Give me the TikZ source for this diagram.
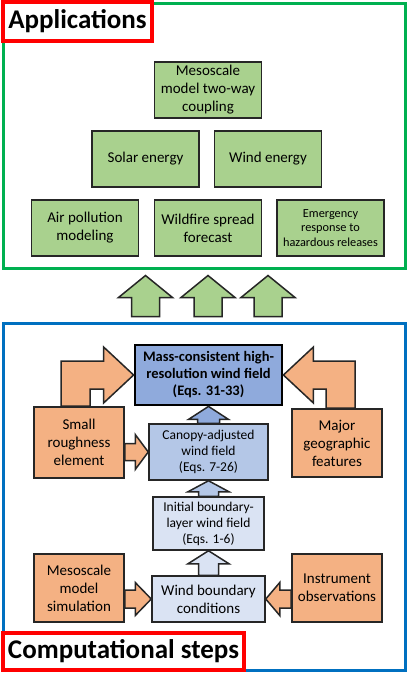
\documentclass[tikz,border=0pt]{standalone}
\usepackage{fontspec}
\setmainfont{Carlito}
\usepackage{tikz}
\usetikzlibrary{calc,positioning}
\definecolor{appgreen}{HTML}{A9D18E}
\definecolor{inorange}{HTML}{F4B183}
\definecolor{blueA}{HTML}{8FAADC}
\definecolor{blueB}{HTML}{B4C7E7}
\definecolor{blueC}{HTML}{DAE3F3}
\definecolor{framegreen}{HTML}{00B050}
\definecolor{frameblue}{HTML}{0070C0}
\definecolor{titlered}{HTML}{FF0000}
\tikzset{
	blockbox/.style={draw=black!85, line width=1.8pt, align=center, inner sep=2pt},
	appbox/.style={blockbox, fill=appgreen, minimum width=107pt, minimum height=56pt, font=\fontsize{15}{18}\selectfont},
	inbox/.style={blockbox, fill=inorange, minimum width=90pt, minimum height=68pt, font=\fontsize{15}{18}\selectfont},
	fieldbox/.style={blockbox, line width=1.5pt, font=\fontsize{13.5}{16}\selectfont},
	areaframe/.style={line width=3pt, minimum width=402pt, inner sep=0pt},
	titlebox/.style={draw=titlered, line width=3.2pt, fill=white, inner sep=0pt, font=\bfseries\fontsize{27}{32}\selectfont},
	flow/.style={draw=black!85, line width=1.5pt, line join=miter},
}
% block arrow: fill, from, to, shaft half width, head half width, head length
\newcommand{\blockarrow}[6]{%
	\coordinate (ba0) at #2;
	\coordinate (ba1) at #3;
	\coordinate (bah) at ($(ba1)!#6!(ba0)$);
	\draw[flow, fill=#1] ($(ba0)!#4!90:(ba1)$) -- ($(bah)!#4!90:(ba1)$) -- ($(bah)!#5!90:(ba1)$)
		-- (ba1) -- ($(bah)!#5!-90:(ba1)$) -- ($(bah)!#4!-90:(ba1)$) -- ($(ba0)!#4!-90:(ba1)$) -- cycle;
}

\begin{document}
\begin{tikzpicture}[x=1pt, y=-1pt]
	\useasboundingbox (0,0) rectangle (408,675);

	% applications
	\node[areaframe, draw=framegreen, minimum height=265pt] (appsframe) at (204,135.5) {};
	\node[titlebox, minimum width=149pt, minimum height=39pt] (appstitle) at (77.5,21.5) {Applications};

	\node[appbox] (coup) at (208,90) {Mesoscale\\model two-way\\coupling};
	\node[appbox] (solar) at (145.5,159) {Solar energy};
	\node[appbox] (wind) at (268,159) {Wind energy};
	\node[appbox] (air) at (85,228) {Air pollution\\modeling};
	\node[appbox] (fire) at (208,228) {Wildfire spread\\forecast};
	\node[appbox, font=\fontsize{12.3}{14.5}\selectfont] (emer) at (330.5,228) {Emergency\\response to\\hazardous releases};

	% computational steps
	\node[areaframe, draw=frameblue, minimum height=347pt] (stepsframe) at (204,496.5) {};
	\node[titlebox, minimum width=241pt, minimum height=37pt] (stepstitle) at (123.5,651.5) {Computational steps};

	\node[fieldbox, fill=blueA, line width=2.8pt, draw=black, minimum width=147pt, minimum height=60pt,
		font=\bfseries\fontsize{14.5}{17}\selectfont] (mass) at (208.5,375) {Mass-consistent high-\\resolution wind field\\(Eqs. 31-33)};
	\node[fieldbox, fill=blueB, minimum width=119pt, minimum height=56pt] (canopy) at (208.5,452) {Canopy-adjusted\\wind field\\(Eqs. 7-26)};
	\node[fieldbox, fill=blueC, minimum width=111pt, minimum height=53pt] (init) at (208.5,523.5) {Initial boundary-\\layer wind field\\(Eqs. 1-6)};
	\node[fieldbox, fill=blueC, minimum width=113pt, minimum height=46pt, font=\fontsize{15}{18}\selectfont] (bc) at (208.5,599) {Wind boundary\\conditions};

	\node[inbox, minimum height=71pt] (rough) at (79,442.5) {Small\\roughness\\element};
	\node[inbox] (geo) at (337,443) {Major\\geographic\\features};
	\node[inbox] (sim) at (79,588) {Mesoscale\\model\\simulation};
	\node[inbox] (inst) at (337,588) {Instrument\\observations};

	% arrows
	\foreach \col in {solar,coup,wind}
		\blockarrow{appgreen}{($(stepsframe.north -| \col)+(0,-5)$)}{($(appsframe.south -| \col)+(0,6)$)}{14pt}{27pt}{22pt};

	\blockarrow{blueC}{(bc.north)}{(init.south)}{10pt}{20.5pt}{13pt}
	\blockarrow{blueB}{(init.north)}{(canopy.south)}{10pt}{20.5pt}{11pt}
	\blockarrow{blueA}{(canopy.north)}{(mass.south)}{11pt}{20pt}{13pt}

	\blockarrow{inorange}{(rough.east |- canopy.west)}{(canopy.west)}{8.5pt}{17.5pt}{13pt}
	\blockarrow{inorange}{(sim.east |- bc.west)}{(bc.west)}{9pt}{16.5pt}{16pt}
	\blockarrow{inorange}{(inst.west |- bc.east)}{(bc.east)}{9pt}{16.5pt}{14pt}

	\draw[flow, fill=inorange] ([xshift=-18pt]rough.north) |- ([xshift=-30pt,yshift=14pt]mass.west)
		-- ([xshift=-30pt,yshift=28pt]mass.west) -- (mass.west) -- ([xshift=-30pt,yshift=-28pt]mass.west)
		-- ([xshift=-30pt,yshift=-14pt]mass.west) -| ([xshift=11pt]rough.north) -- cycle;
	\draw[flow, fill=inorange] ([xshift=18pt]geo.north) |- ([xshift=30pt,yshift=14pt]mass.east)
		-- ([xshift=30pt,yshift=28pt]mass.east) -- (mass.east) -- ([xshift=30pt,yshift=-28pt]mass.east)
		-- ([xshift=30pt,yshift=-14pt]mass.east) -| ([xshift=-11pt]geo.north) -- cycle;
\end{tikzpicture}
\end{document}
